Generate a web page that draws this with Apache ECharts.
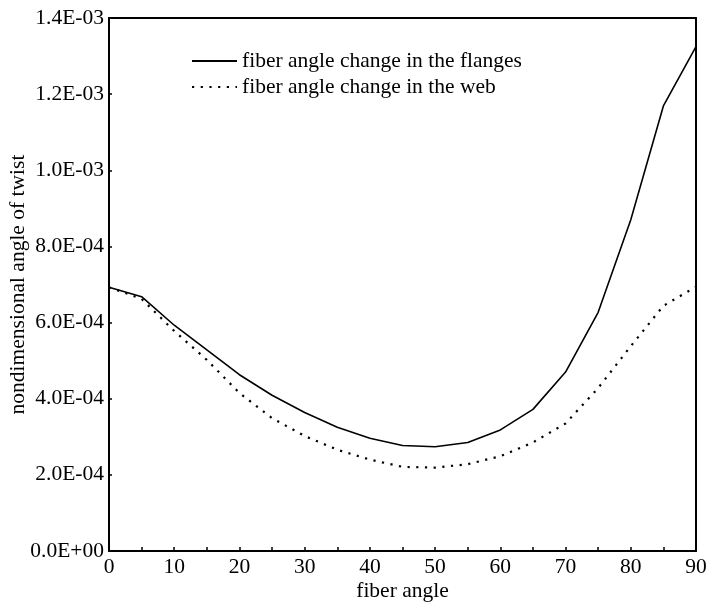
<!DOCTYPE html>
<html>
<head>
<meta charset="utf-8">
<script src="https://cdn.jsdelivr.net/npm/echarts@6/dist/echarts.min.js"></script>
<style>
  html, body { margin: 0; padding: 0; background: #fff; }
  #main { width: 710px; height: 603px; }
</style>
</head>
<body>
<div id="main"></div>
<script>
// fiber angle in degrees
var angles = [0, 5, 10, 15, 20, 25, 30, 35, 40, 45, 50, 55, 60, 65, 70, 75, 80, 85, 90];
// nondimensional angle of twist
var flanges = [6.93e-4, 6.68e-4, 5.93e-4, 5.28e-4, 4.63e-4, 4.09e-4, 3.64e-4, 3.25e-4, 2.96e-4, 2.77e-4, 2.74e-4, 2.85e-4, 3.18e-4, 3.72e-4, 4.70e-4, 6.27e-4, 8.70e-4, 1.169e-3, 1.325e-3];
var web = [6.93e-4, 6.62e-4, 5.78e-4, 5.02e-4, 4.15e-4, 3.49e-4, 3.02e-4, 2.66e-4, 2.40e-4, 2.21e-4, 2.19e-4, 2.28e-4, 2.49e-4, 2.85e-4, 3.35e-4, 4.28e-4, 5.38e-4, 6.44e-4, 6.94e-4];
var seriesNames = ['fiber angle change in the flanges', 'fiber angle change in the web'];

function pairs(ys) {
    return angles.map(function (a, i) { return [a, ys[i]]; });
}

var font = 'Liberation Serif';
var fs = 21.5;
var myChart = echarts.init(document.getElementById('main'));
myChart.setOption({
    animation: false,
    grid: { left: 109, right: 14, top: 18, bottom: 52, containLabel: false, outerBoundsMode: 'none' },
    legend: {
        orient: 'vertical',
        left: 186,
        top: 45,
        itemGap: 4,
        itemWidth: 45,
        itemHeight: 12,
        itemStyle: { opacity: 0 },
        textStyle: { fontFamily: font, fontSize: fs, color: '#000' },
        data: seriesNames
    },
    xAxis: [{
        type: 'value',
        min: 0, max: 90, interval: 5,
        name: 'fiber angle',
        nameLocation: 'middle',
        nameGap: 29,
        nameMoveOverlap: false,
        nameTextStyle: { fontFamily: font, fontSize: fs, color: '#000' },
        axisLine: { lineStyle: { color: '#000', width: 2 } },
        axisTick: { inside: true, length: 4, lineStyle: { color: '#000', width: 1.5 } },
        axisLabel: {
            fontFamily: font, fontSize: fs, color: '#000', margin: 5,
            formatter: function (v) { return v % 10 === 0 ? String(v) : ''; }
        },
        splitLine: { show: false }
    }, {
        type: 'value', position: 'top', min: 0, max: 90,
        axisLine: { show: true, onZero: false, lineStyle: { color: '#000', width: 2 } },
        axisTick: { show: false }, axisLabel: { show: false }, splitLine: { show: false }
    }],
    yAxis: [{
        type: 'value',
        min: 0, max: 1.4e-3, interval: 2e-4,
        name: 'nondimensional angle of twist',
        nameLocation: 'middle',
        nameGap: 80,
        nameMoveOverlap: false,
        nameTextStyle: { fontFamily: font, fontSize: fs, color: '#000' },
        axisLine: { show: true, lineStyle: { color: '#000', width: 2 } },
        axisTick: { inside: true, length: 3, lineStyle: { color: '#000', width: 1.5 } },
        axisLabel: {
            fontFamily: font, fontSize: fs, color: '#000', margin: 5,
            formatter: function (v) {
                var e = v.toExponential(1).toUpperCase();
                var m = e.match(/^([\d.]+)E([+-])(\d+)$/);
                return m[1] + 'E' + m[2] + (m[3].length < 2 ? '0' + m[3] : m[3]);
            }
        },
        splitLine: { show: false }
    }, {
        type: 'value', position: 'right', min: 0, max: 1.4e-3,
        axisLine: { show: true, onZero: false, lineStyle: { color: '#000', width: 2 } },
        axisTick: { show: false }, axisLabel: { show: false }, splitLine: { show: false }
    }],
    series: [{
        name: seriesNames[0],
        type: 'line',
        symbol: 'none',
        data: pairs(flanges),
        lineStyle: { color: '#000', width: 1.6 },
        itemStyle: { color: '#000' }
    }, {
        name: seriesNames[1],
        type: 'line',
        symbol: 'none',
        data: pairs(web),
        lineStyle: { color: '#000', width: 2.2, type: [2.2, 6.5] },
        itemStyle: { color: '#000' }
    }]
});
</script>
</body>
</html>
